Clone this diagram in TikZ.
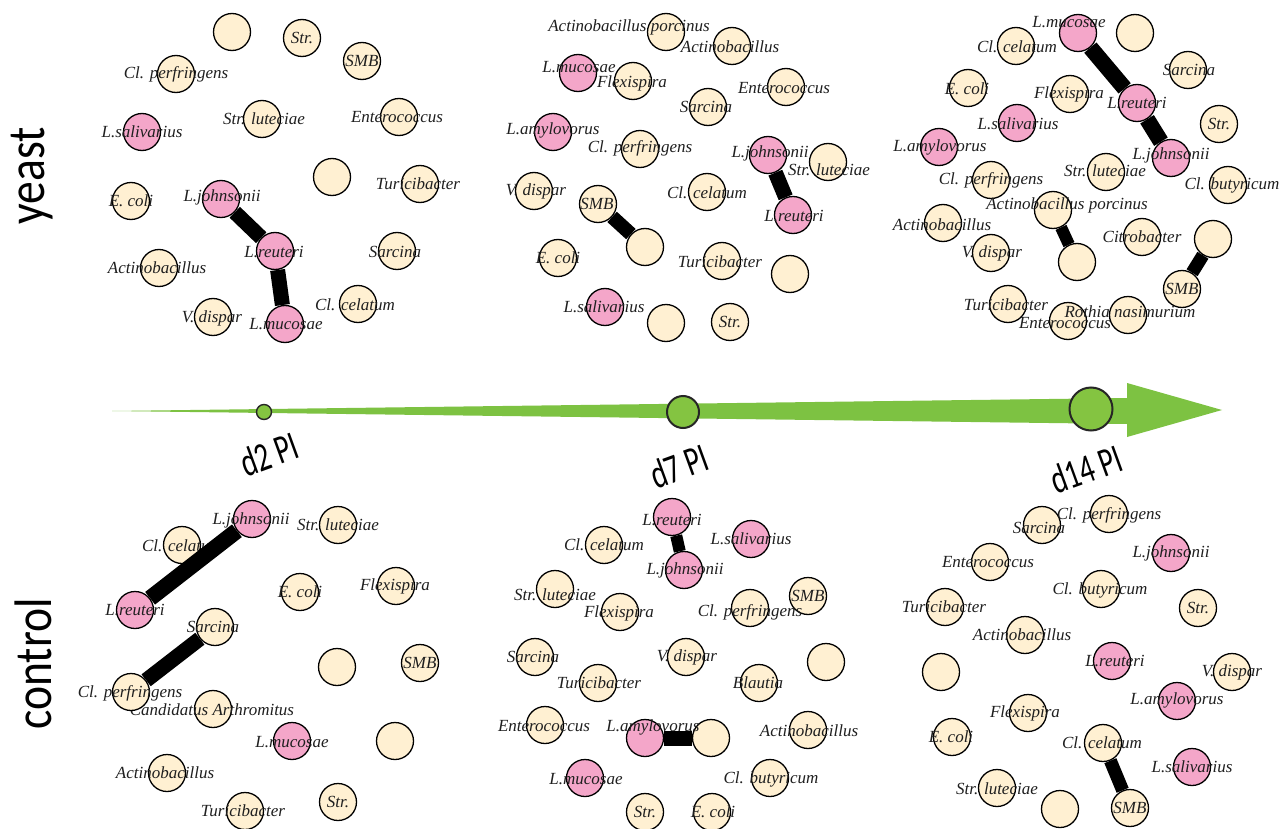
\documentclass[tikz,border=0pt]{standalone}
\usepackage{fontspec}
\setmainfont{Liberation Serif}
\newfontfamily\handfont{Carlito}
\pgfdeclarelayer{bg}\pgfdeclarelayer{back}\pgfdeclarelayer{backtext}\pgfdeclarelayer{front}\pgfdeclarelayer{fronttext}
\pgfsetlayers{bg,back,backtext,main,front,fronttext}
\definecolor{cream}{HTML}{FFF0D2}
\definecolor{pinkc}{HTML}{F4A6C9}
\definecolor{arrowgreen}{HTML}{7DC242}
\definecolor{dotgreen}{HTML}{84C441}
\tikzset{
  bac/.style={circle, draw=black, line width=0.65pt, fill=cream, minimum size=18.5pt, inner sep=0pt},
  lac/.style={bac, fill=pinkc},
  lbl/.style={font=\itshape\fontsize{8.5}{10}\selectfont, text=black!88, inner sep=0pt},
  tie/.style={line width=#1, draw=black},
  tick/.style={circle, draw=black!85, line width=1pt, fill=dotgreen, inner sep=0pt},
  dlab/.style={font=\handfont\fontsize{17}{20}\selectfont, rotate=20, inner sep=0pt},
  side/.style={font=\handfont\fontsize{24}{26}\selectfont, rotate=90, inner sep=0pt}
}
\newcommand\taxon[5]{\begin{pgfonlayer}{back}\node[#1] (#2) at (#3) {};\end{pgfonlayer}\begin{pgfonlayer}{backtext}\node[lbl] at (#4) {#5};\end{pgfonlayer}}
\newcommand\taxonF[5]{\begin{pgfonlayer}{front}\node[#1] (#2) at (#3) {};\end{pgfonlayer}\begin{pgfonlayer}{fronttext}\node[lbl] at (#4) {#5};\end{pgfonlayer}}
\newcommand\blank[2]{\begin{pgfonlayer}{back}\node[bac] (#1) at (#2) {};\end{pgfonlayer}}
\newcommand\blankF[2]{\begin{pgfonlayer}{front}\node[bac] (#1) at (#2) {};\end{pgfonlayer}}
\begin{document}
\begin{tikzpicture}[x=0.5pt,y=-0.5pt]
\useasboundingbox (0,0) rectangle (1280,829);
\begin{pgfonlayer}{bg}
\fill[white] (0,0) rectangle (1280,829);
\end{pgfonlayer}

% side labels
\node[side] (yeast) at (32,176) {\scalebox{0.95}[1.1]{yeast}};
\node[side] (control) at (33,664) {\scalebox{0.95}[1.1]{control}};

% time arrow
\fill[arrowgreen] (112,411) -- (1127,398) -- (1127,383) -- (1222,410) -- (1127,437) -- (1127,424) -- cycle;
\node[tick, minimum size=7.5pt, line width=0.7pt] (t2) at (264,412) {};
\node[tick, minimum size=16pt] (t7) at (683,412) {};
\node[tick, minimum size=21.5pt] (t14) at (1091,409) {};
\node[dlab] (d2) at (269,454) {\scalebox{0.85}[1.2]{d2 PI}};
\node[dlab] (d7) at (679,466) {\scalebox{0.85}[1.2]{d7 PI}};
\node[dlab] (d14) at (1086,469) {\scalebox{0.85}[1.2]{d14 PI}};

% ---------- yeast d2
\blank{ya1}{232,32}
\taxon{bac}{ya2}{302,38}{302,38}{Str.}
\taxon{bac}{ya3}{362,61}{362,61}{SMB}
\taxon{bac}{ya4}{176,74}{176,74}{Cl. perfringens}
\taxon{lac}{ya5}{142,132}{142,132}{L.salivarius}
\taxon{bac}{ya6}{262,119}{264,119}{Str. luteciae}
\taxon{bac}{ya7}{399,117}{397,117}{Enterococcus}
\blank{ya8}{332,177}
\taxon{bac}{ya9}{420,184}{418,184}{Turicibacter}
\taxon{bac}{ya10}{131,201}{131,201}{E. coli}
\taxonF{lac}{ya11}{221,199}{222,197}{L.johnsonii}
\taxonF{lac}{ya12}{275,251}{274,252}{L.reuteri}
\taxon{bac}{ya13}{397,251}{395,252}{Sarcina}
\taxon{bac}{ya14}{159,268}{157,268}{Actinobacillus}
\taxon{bac}{ya15}{358,304}{355,305}{Cl. celatum}
\taxon{bac}{ya16}{213,317}{212,318}{V. dispar}
\taxonF{lac}{ya17}{285,324}{286,324}{L.mucosae}
\draw[tie=7.5pt] (ya11) -- (ya12);
\draw[tie=7.5pt] (ya12) -- (ya17);

% ---------- yeast d7
\taxon{bac}{yb1}{666,32}{629,27}{Actinobacillus porcinus}
\taxon{bac}{yb2}{732,46}{730,47}{Actinobacillus}
\taxon{lac}{yb3}{578,73}{579,67}{L.mucosae}
\taxon{bac}{yb4}{633,81}{632,83}{Flexispira}
\taxon{bac}{yb5}{786,87}{784,88}{Enterococcus}
\taxon{bac}{yb6}{708,107}{706,107}{Sarcina}
\taxon{lac}{yb7}{553,132}{553,130}{L.amylovorus}
\taxon{bac}{yb8}{640,149}{640,148}{Cl. perfringens}
\taxonF{lac}{yb9}{768,155}{770,153}{L.johnsonii}
\taxon{bac}{yb10}{828,162}{829,170}{Str. luteciae}
\taxon{bac}{yb11}{534,191}{536,191}{V. dispar}
\taxonF{bac}{yb12}{598,204}{597,204}{SMB}
\taxon{bac}{yb13}{707,192}{707,193}{Cl. celatum}
\taxonF{lac}{yb14}{793,215}{794,216}{L.reuteri}
\blankF{yb15}{645,247}
\taxon{bac}{yb16}{558,258}{558,258}{E. coli}
\taxon{bac}{yb17}{722,261}{720,262}{Turicibacter}
\blank{yb18}{790,274}
\taxon{lac}{yb19}{605,307}{604,307}{L.salivarius}
\blank{yb20}{666,323}
\taxon{bac}{yb21}{730,322}{730,322}{Str.}
\draw[tie=7pt] (yb12) -- (yb15);
\draw[tie=7.5pt] (yb9) -- (yb14);

% ---------- yeast d14
\taxonF{lac}{yc1}{1078,33}{1069,22}{L.mucosae}
\blank{yc2}{1135,33}
\taxon{bac}{yc3}{1016,46}{1017,47}{Cl. celatum}
\taxon{bac}{yc4}{1188,70}{1189,70}{Sarcina}
\taxon{bac}{yc5}{968,88}{967,89}{E. coli}
\taxon{bac}{yc6}{1070,94}{1069,94}{Flexispira}
\taxonF{lac}{yc7}{1137,103}{1137,103}{L.reuteri}
\taxon{lac}{yc8}{1017,123}{1018,124}{L.salivarius}
\taxon{bac}{yc9}{1219,124}{1219,124}{Str.}
\taxon{lac}{yc10}{939,147}{940,147}{L.amylovorus}
\taxonF{lac}{yc11}{1171,158}{1171,155}{L.johnsonii}
\taxon{bac}{yc12}{1106,172}{1105,171}{Str. luteciae}
\taxon{bac}{yc13}{991,180}{991,180}{Cl. perfringens}
\taxon{bac}{yc14}{1228,185}{1232,185}{Cl. butyricum}
\taxonF{bac}{yc15}{1053,210}{1067,205}{Actinobacillus porcinus}
\taxon{bac}{yc16}{943,223}{942,225}{Actinobacillus}
\taxon{bac}{yc17}{1142,237}{1142,237}{Citrobacter}
\blankF{yc18}{1213,239}
\taxon{bac}{yc19}{991,253}{992,253}{V. dispar}
\blankF{yc20}{1077,262}
\taxonF{bac}{yc21}{1182,289}{1182,289}{SMB}
\taxon{bac}{yc22}{1008,304}{1006,305}{Turicibacter}
\taxon{bac}{yc23}{1128,315}{1130,312}{Rothia nasimurium}
\taxon{bac}{yc24}{1068,321}{1065,323}{Enterococcus}
\draw[tie=8pt] (yc1) -- (yc7);
\draw[tie=8pt] (yc7) -- (yc11);
\draw[tie=6pt] (yc15) -- (yc20);
\draw[tie=6.5pt] (yc18) -- (yc21);

% ---------- control d2
\taxonF{lac}{ca1}{252,519}{251,520}{L.johnsonii}
\taxon{bac}{ca2}{338,525}{338,525}{Str. luteciae}
\taxon{bac}{ca3}{182,545}{182,546}{Cl. celatum}
\taxon{bac}{ca4}{300,592}{300,592}{E. coli}
\taxon{bac}{ca5}{396,586}{395,586}{Flexispira}
\taxonF{lac}{ca6}{135,610}{135,610}{L.reuteri}
\taxonF{bac}{ca7}{215,627}{213,627}{Sarcina}
\blank{ca8}{337,667}
\taxon{bac}{ca9}{420,663}{420,663}{SMB}
\taxonF{bac}{ca10}{131,692}{130,693}{Cl. perfringens}
\taxon{bac}{ca11}{213,709}{212,710}{Candidatus Arthromitus}
\taxon{lac}{ca12}{292,741}{292,742}{L.mucosae}
\blank{ca13}{395,741}
\taxon{bac}{ca14}{167,773}{165,773}{Actinobacillus}
\taxon{bac}{ca15}{245,811}{243,811}{Turicibacter}
\taxon{bac}{ca16}{338,802}{338,802}{Str.}
\draw[tie=8pt] (ca6) -- (ca1);
\draw[tie=7.5pt] (ca7) -- (ca10);

% ---------- control d7
\taxonF{lac}{cb1}{672,517}{672,520}{L.reuteri}
\taxon{lac}{cb2}{751,539}{751,539}{L.salivarius}
\taxon{bac}{cb3}{604,545}{604,545}{Cl. celatum}
\taxonF{lac}{cb4}{684,570}{685,570}{L.johnsonii}
\taxon{bac}{cb5}{555,589}{555,595}{Str. luteciae}
\taxon{bac}{cb6}{808,596}{808,596}{SMB}
\taxon{bac}{cb7}{620,612}{619,613}{Flexispira}
\taxon{bac}{cb8}{750,608}{750,612}{Cl. perfringens}
\taxon{bac}{cb9}{535,657}{533,657}{Sarcina}
\taxon{bac}{cb10}{686,657}{687,657}{V. dispar}
\blank{cb11}{826,662}
\taxon{bac}{cb12}{598,683}{599,683}{Turicibacter}
\taxon{bac}{cb13}{759,683}{758,683}{Blautia}
\taxon{bac}{cb14}{545,725}{544,726}{Enterococcus}
\taxonF{lac}{cb15}{645,738}{653,727}{L.amylovorus}
\blankF{cb16}{711,738}
\taxon{bac}{cb17}{808,730}{809,731}{Actinobacillus}
\taxon{lac}{cb18}{585,778}{586,779}{L.mucosae}
\taxon{bac}{cb19}{770,778}{771,779}{Cl. butyricum}
\taxon{bac}{cb20}{645,812}{645,812}{Str.}
\taxon{bac}{cb21}{712,812}{713,812}{E. coli}
\draw[tie=6pt] (cb1) -- (cb4);
\draw[tie=7.5pt] (cb15) -- (cb16);

% ---------- control d14
\taxon{bac}{cc1}{1042,525}{1039,528}{Sarcina}
\taxon{bac}{cc2}{1109,514}{1109,515}{Cl. perfringens}
\taxon{lac}{cc3}{1171,553}{1171,553}{L.johnsonii}
\taxon{bac}{cc4}{990,562}{988,562}{Enterococcus}
\taxon{bac}{cc5}{1101,589}{1100,590}{Cl. butyricum}
\taxon{bac}{cc6}{945,607}{944,607}{Turicibacter}
\taxon{bac}{cc7}{1198,608}{1198,608}{Str.}
\taxon{bac}{cc8}{1025,635}{1022,635}{Actinobacillus}
\blank{cc9}{941,672}
\taxon{lac}{cc10}{1112,661}{1115,661}{L.reuteri}
\taxon{bac}{cc11}{1232,672}{1232,672}{V. dispar}
\taxon{lac}{cc12}{1177,701}{1177,700}{L.amylovorus}
\taxon{bac}{cc13}{1028,713}{1025,713}{Flexispira}
\taxon{bac}{cc14}{952,737}{951,737}{E. coli}
\taxonF{bac}{cc15}{1103,743}{1102,743}{Cl. celatum}
\taxon{lac}{cc16}{1192,767}{1192,767}{L.salivarius}
\taxon{bac}{cc17}{997,788}{997,789}{Str. luteciae}
\blank{cc18}{1060,809}
\taxonF{bac}{cc19}{1130,808}{1130,808}{SMB}
\draw[tie=6.5pt] (cc15) -- (cc19);
\end{tikzpicture}
\end{document}
